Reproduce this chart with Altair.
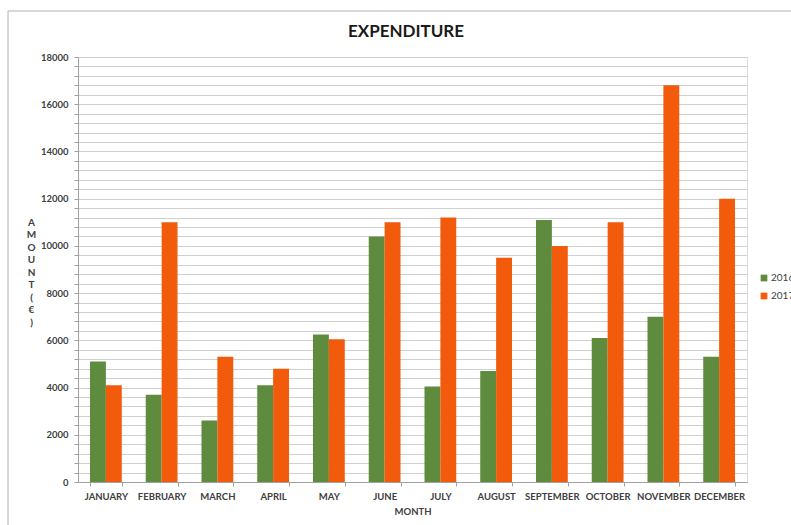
import altair as alt
import pandas as pd

months = ["JANUARY", "FEBRUARY", "MARCH", "APRIL", "MAY", "JUNE", "JULY",
          "AUGUST", "SEPTEMBER", "OCTOBER", "NOVEMBER", "DECEMBER"]
years = ["2016", "2017"]
values_2016 = [5100, 3700, 2600, 4100, 6250, 10400, 4050, 4700, 11100, 6100, 7000, 5300]
values_2017 = [4100, 11000, 5300, 4800, 6050, 11000, 11200, 9500, 10000, 11000, 16800, 12000]
colors = ["#5E8B3E", "#F25A0C"]
grid_values = list(range(0, 18001, 400))
chart_title = "EXPENDITURE"

rows = []
for m, a, b in zip(months, values_2016, values_2017):
    rows.append({"month": m, "year": "2016", "amount": a})
    rows.append({"month": m, "year": "2017", "amount": b})
df = pd.DataFrame(rows)

FONT = "Lato"

bars = alt.Chart(df).mark_bar().encode(
    x=alt.X("month:N", sort=months,
            scale=alt.Scale(paddingInner=0.43, paddingOuter=0.215),
            axis=alt.Axis(title="MONTH", labelAngle=0, labelFont=FONT, labelFontWeight="bold",
                          labelFontSize=9.5, labelColor="#404040", labelPadding=5,
                          titleFont=FONT, titleFontWeight="bold", titleFontSize=9.5,
                          titleColor="#404040", titlePadding=6,
                          tickBand="extent", tickColor="#a0a0a0", tickSize=4,
                          domainColor="#a0a0a0", grid=False)),
    xOffset=alt.XOffset("year:N", sort=years),
    y=alt.Y("amount:Q", scale=alt.Scale(domain=[0, 18000], nice=False),
            axis=alt.Axis(values=grid_values,
                          labelExpr="datum.value % 2000 == 0 ? datum.value : ''",
                          title=["A", "M", "O", "U", "N", "T", "(", "€", ")"],
                          titleAngle=0, titleLineHeight=12.5, titleX=-47, titleY=165,
                          titleAlign="center", titleBaseline="middle",
                          titleFont=FONT, titleFontWeight="bold", titleFontSize=10,
                          titleColor="#404040",
                          labelFont=FONT, labelFontWeight="bold", labelFontSize=9.5,
                          labelColor="#404040", labelPadding=6,
                          tickColor="#a0a0a0", tickSize=4,
                          domainColor="#a0a0a0",
                          gridColor="#cfcfcf", gridWidth=1)),
    color=alt.Color("year:N", sort=years,
                    scale=alt.Scale(domain=years, range=colors),
                    legend=alt.Legend(title=None, orient="none", legendX=681, legendY=216,
                                      symbolType="square", symbolSize=45,
                                      labelFont=FONT, labelFontSize=10, labelColor="#404040",
                                      labelOffset=2, rowPadding=8, symbolStrokeWidth=0)),
)

title_layer = alt.Chart(pd.DataFrame({"t": [chart_title]})).mark_text(
    font=FONT, fontWeight="bold", fontSize=17, color="#1a1a1a",
    align="center", baseline="middle").encode(
    text="t:N", x=alt.value(328), y=alt.value(-25))

border_left = alt.Chart(pd.DataFrame({"k": [0]})).mark_rule(color="#b0b0b0", strokeWidth=1).encode(
    x=alt.value(-70), y=alt.value(-46), y2=alt.value(480))
border_top = alt.Chart(pd.DataFrame({"k": [0]})).mark_rule(color="#b0b0b0", strokeWidth=1).encode(
    x=alt.value(-70), x2=alt.value(730), y=alt.value(-46))

chart = alt.layer(bars, title_layer, border_left, border_top).properties(
    width=669, height=425,
    autosize=alt.AutoSizeParams(type="none"),
    padding={"left": 78, "top": 57, "right": 44, "bottom": 43},
).configure_view(stroke=None).configure(background="white")

chart.save("out.html", embed_options={"renderer": "svg", "actions": False})
